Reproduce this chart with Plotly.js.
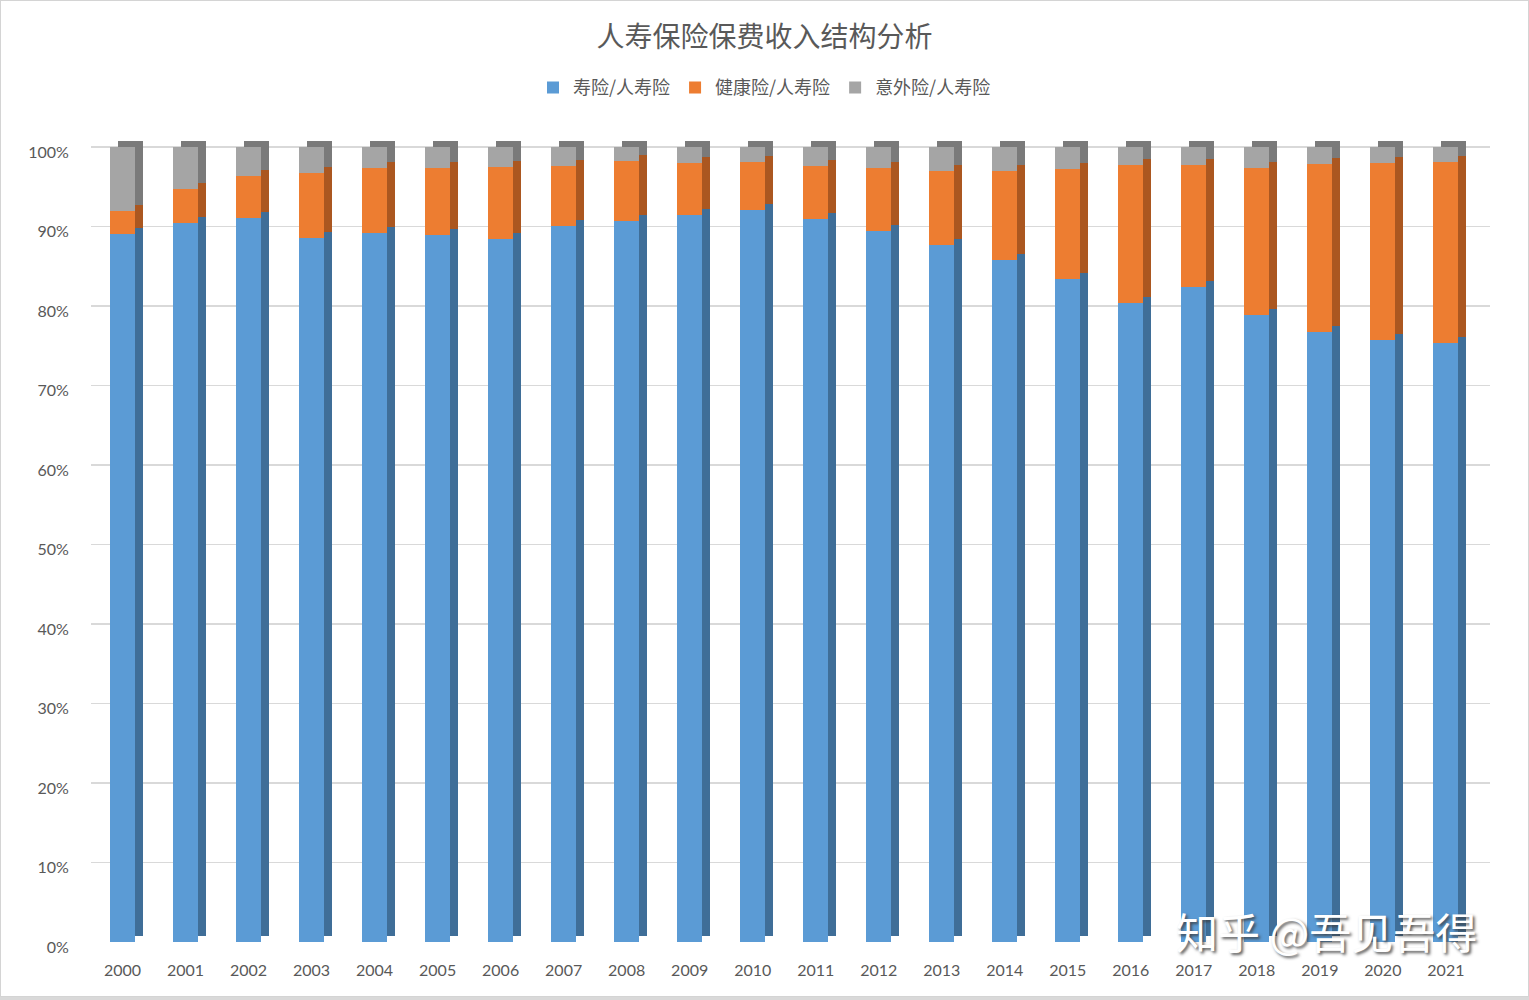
<!DOCTYPE html>
<html>
<head>
<meta charset="utf-8">
<script src="https://cdn.plot.ly/plotly-3.0.1.min.js"></script>
<style>
  html, body { margin: 0; padding: 0; background: #d9d9d9; }
  #wrap { position: relative; width: 1529px; height: 997px; background: #ffffff; }
  #chart { position: absolute; left: 0; top: 0; width: 1529px; height: 997px; }
  #frame { position: absolute; left: 0; top: 0; width: 1527px; height: 995px; border: 1px solid #d4d4d4; pointer-events: none; }
</style>
</head>
<body>
<div id="wrap"><div id="chart"></div><div id="frame"></div></div>
<script>
// ---- data (percent of life-insurance premium income) ----
const years = ['2000','2001','2002','2003','2004','2005','2006','2007','2008','2009','2010',
               '2011','2012','2013','2014','2015','2016','2017','2018','2019','2020','2021'];
const lifeShare     = [89.0, 90.4, 91.1, 88.6, 89.2, 88.9, 88.4, 90.1, 90.7, 91.5, 92.1,
                       90.9, 89.4, 87.7, 85.8, 83.4, 80.4, 82.4, 78.9, 76.7, 75.7, 75.4];
const healthShare   = [2.9, 4.3, 5.3, 8.1, 8.1, 8.5, 9.1, 7.5, 7.5, 6.5, 6.0,
                       6.7, 8.0, 9.3, 11.2, 13.8, 17.3, 15.3, 18.5, 21.1, 22.3, 22.7];
const accidentShare = [8.1, 5.3, 3.6, 3.3, 2.7, 2.6, 2.5, 2.4, 1.8, 2.0, 1.9,
                       2.4, 2.6, 3.0, 3.0, 2.8, 2.3, 2.3, 2.6, 2.2, 2.0, 1.9];
const seriesNames = ['寿险/人寿险', '健康险/人寿险', '意外险/人寿险'];
const yTicks = [0, 10, 20, 30, 40, 50, 60, 70, 80, 90, 100];

// ---- styling ----
const frontColors = ['#5B9BD5', '#ED7D31', '#A5A5A5'];
const sideColors  = ['#3F6E98', '#AB5720', '#7A7A7A'];
const seriesData = [lifeShare, healthShare, accidentShare];

const nCat = years.length;
const xExtra = 0.2;                    // room to the right of the last bar
const yTop = 101;                      // room above 100% for the depth faces
const plotL = 91, plotR = 1490, plotB = 941.7;
const pxPerPct = 7.95;
const plotT = plotB - yTop * pxPerPct;
const catPx = (plotR - plotL) / (nCat + xExtra);
const depthX = 8, depthY = 6;          // pseudo 3D depth in px
const dx = depthX / catPx;             // shift in category units
const dy = depthY / pxPerPct;          // shift in percent units

const traces = [];
// depth (side/top) faces on the main axes, drawn underneath
seriesData.forEach((vals, i) => {
  traces.push({
    type: 'bar', x: years, y: vals, name: seriesNames[i] + ' side',
    xaxis: 'x', yaxis: 'y', width: 0.4,
    marker: { color: sideColors[i], line: { width: 0 } },
    showlegend: false, hoverinfo: 'skip'
  });
});
// front faces on the overlaid axes
seriesData.forEach((vals, i) => {
  traces.push({
    type: 'bar', x: years, y: vals, name: seriesNames[i],
    xaxis: 'x2', yaxis: 'y2', width: 0.4,
    marker: { color: frontColors[i], line: { width: 0 } },
    hovertemplate: '%{x}: %{y:.1f}%<extra>' + seriesNames[i] + '</extra>'
  });
});

const cjk = '"Noto Sans CJK SC", "Microsoft YaHei", sans-serif';
const tickFont = { family: 'Lato, "Open Sans", sans-serif', size: 16, color: '#595959' };

const layout = {
  width: 1529, height: 997,
  margin: { l: plotL, r: 1529 - plotR, t: plotT, b: 997 - plotB, pad: 0 },
  paper_bgcolor: '#ffffff', plot_bgcolor: 'rgba(0,0,0,0)',
  barmode: 'stack',
  title: {
    text: '人寿保险保费收入结构分析',
    font: { family: cjk, size: 28, color: '#595959' },
    x: 0.5, xanchor: 'center', xref: 'container', y: 0.963, yanchor: 'middle', yref: 'container'
  },
  legend: {
    orientation: 'h', x: 0.5, xanchor: 'center', xref: 'container',
    y: 0.912, yanchor: 'middle', yref: 'container',
    font: { family: cjk, size: 18, color: '#595959' },
    traceorder: 'normal', itemwidth: 30
  },
  xaxis: {
    type: 'category', range: [-0.5 - dx, nCat - 0.5 + xExtra - dx],
    showticklabels: false, showgrid: false, zeroline: false, showline: false, fixedrange: true
  },
  yaxis: {
    range: [-dy, yTop - dy],
    showticklabels: false, showgrid: false, zeroline: false, showline: false, fixedrange: true
  },
  xaxis2: {
    type: 'category', overlaying: 'x', side: 'bottom', range: [-0.5, nCat - 0.5 + xExtra],
    showgrid: false, zeroline: false, showline: false,
    ticks: 'outside', ticklen: 14, tickcolor: 'rgba(0,0,0,0)',
    tickfont: tickFont, fixedrange: true
  },
  yaxis2: {
    overlaying: 'y', side: 'left', range: [0, yTop],
    tickvals: yTicks, ticktext: yTicks.map(v => v + '%'),
    showgrid: true, gridcolor: '#d9d9d9', gridwidth: 1.5,
    zeroline: false, showline: false,
    ticks: 'outside', ticklen: 18, tickcolor: 'rgba(0,0,0,0)',
    ticklabelshift: 5,
    tickfont: tickFont, fixedrange: true
  },
  annotations: [{
    text: '知乎 @吾见吾得', xref: 'paper', yref: 'paper',
    x: (1326 - plotL) / (plotR - plotL), y: (plotB - 930) / (plotB - plotT),
    xanchor: 'center', yanchor: 'middle', showarrow: false,
    font: { family: cjk, size: 42, color: '#ffffff', shadow: '2px 2px 3px rgba(60,60,60,0.85)' }
  }]
};

Plotly.newPlot('chart', traces, layout, { displayModeBar: false, staticPlot: true });
</script>
</body>
</html>
